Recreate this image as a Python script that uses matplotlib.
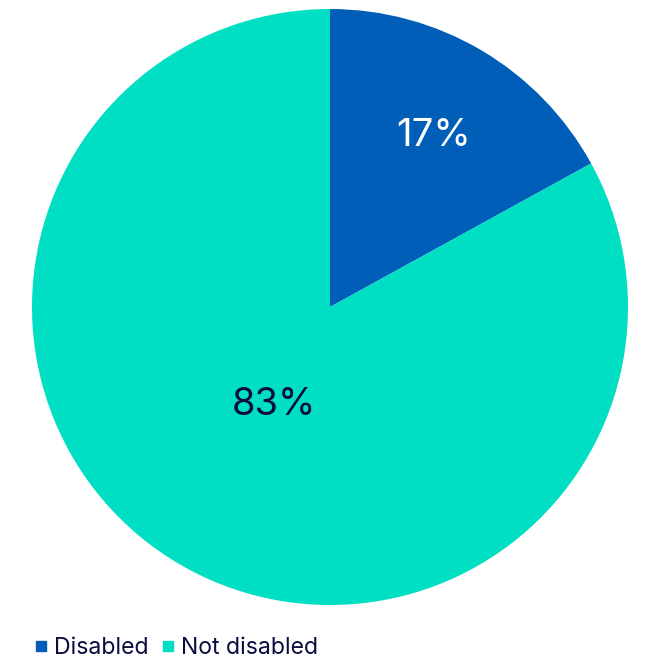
import numpy as np
import matplotlib
matplotlib.use("Agg")
import matplotlib.pyplot as plt
from matplotlib.lines import Line2D

categories = ["Disabled", "Not disabled"]
values = [17, 83]
colors = ["#005EB8", "#00DEC4"]
label_colors = ["#FFFFFF", "#0B0C3F"]
label_radius = [0.68, 0.37]

plt.rcParams["font.family"] = ["Inter", "DejaVu Sans"]

fig = plt.figure(figsize=(6.5, 6.61), dpi=100)
ax = fig.add_axes([32 / 650, 56 / 661, 596 / 650, 596 / 661])

wedges, _ = ax.pie(values, colors=colors, startangle=90, counterclock=False,
                   radius=1.0, wedgeprops=dict(linewidth=0))
ax.set_xlim(-1, 1)
ax.set_ylim(-1, 1)
ax.set_aspect("equal")

for w, v, c, r in zip(wedges, values, label_colors, label_radius):
    ang = np.deg2rad((w.theta1 + w.theta2) / 2)
    ax.text(r * np.cos(ang), r * np.sin(ang) - 0.01, f"{v}%", color=c,
            fontsize=27.5, ha="center", va="center")

handles = [Line2D([], [], marker="s", linestyle="none", markersize=6.5,
                  markerfacecolor=col, markeredgecolor=col) for col in colors]
fig.legend(handles, categories, loc="lower left", bbox_to_anchor=(14 / 650, -0.029),
           ncol=2, frameon=False, fontsize=16.6, handlelength=0.55, handletextpad=0.3,
           columnspacing=0.55, labelcolor="#0B0C3F")

fig.savefig("out.png", dpi=100)
